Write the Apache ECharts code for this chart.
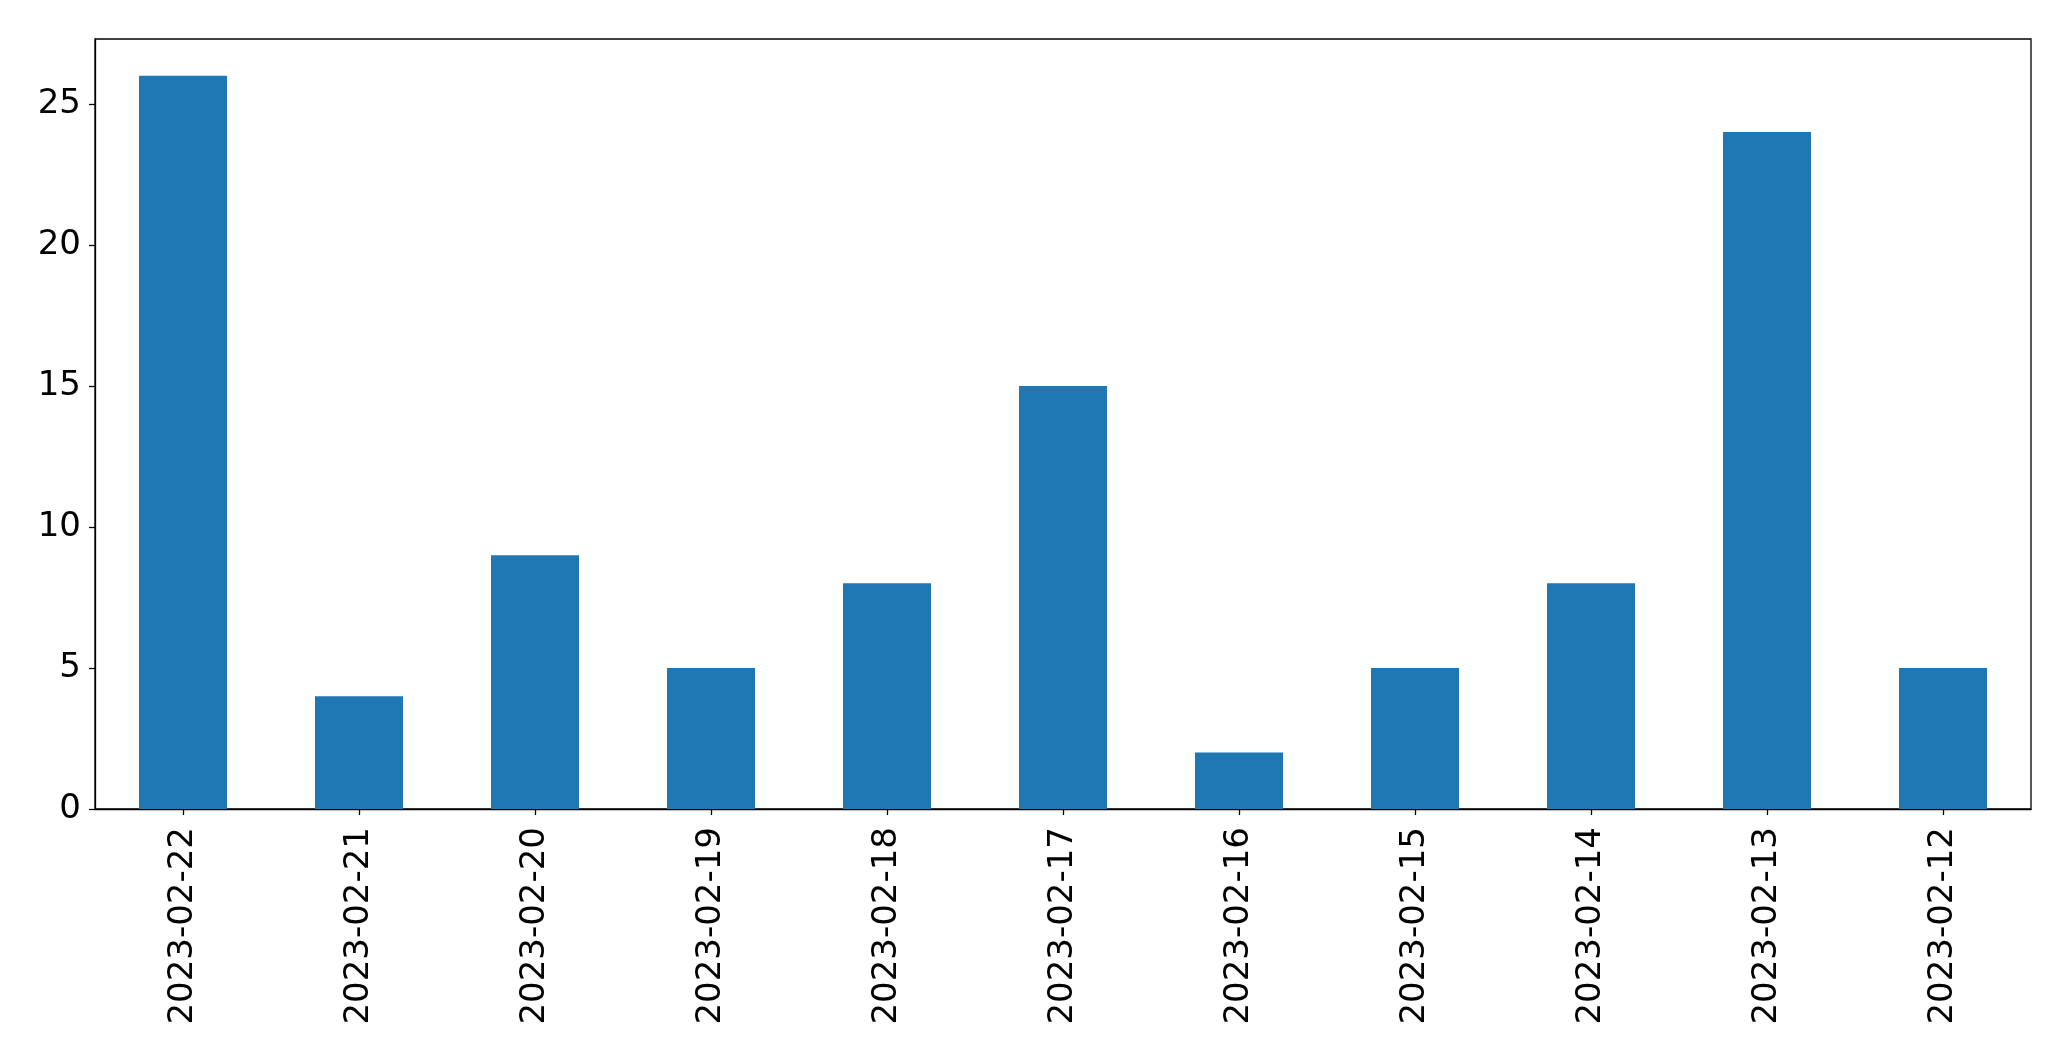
<!DOCTYPE html>
<html>
<head>
<meta charset="utf-8">
<script src="https://cdn.jsdelivr.net/npm/echarts@6/dist/echarts.min.js"></script>
<style>html,body{margin:0;padding:0;background:#fff;}#c{width:2071px;height:1061px;}</style>
</head>
<body>
<div id="c"></div>
<script>
const categories = ["2023-02-22","2023-02-21","2023-02-20","2023-02-19","2023-02-18","2023-02-17","2023-02-16","2023-02-15","2023-02-14","2023-02-13","2023-02-12"];
const values = [26, 4, 9, 5, 8, 15, 2, 5, 8, 24, 5];
const yMax = 27.3;

const chart = echarts.init(document.getElementById('c'), null, {renderer: 'canvas'});
chart.setOption({
  animation: false,
  backgroundColor: '#fff',
  grid: {left: 95, right: 40, top: 39, bottom: 252, show: true, borderColor: '#000', borderWidth: 1.3, backgroundColor: 'transparent'},
  xAxis: {
    type: 'category',
    data: categories,
    boundaryGap: true,
    axisLine: {show: true, lineStyle: {color: '#000', width: 1.3}},
    axisTick: {show: true, alignWithLabel: true, length: 6, lineStyle: {color: '#000', width: 1.3}},
    axisLabel: {rotate: 90, margin: 18, fontSize: 34, fontFamily: 'DejaVu Sans', color: '#000', interval: 0},
    splitLine: {show: false}
  },
  yAxis: {
    type: 'value',
    min: 0, max: yMax, interval: 5,
    axisLine: {show: true, lineStyle: {color: '#000', width: 1.3}},
    axisTick: {show: true, length: 6, lineStyle: {color: '#000', width: 1.3}},
    axisLabel: {showMaxLabel: false, margin: 14, fontSize: 34, fontFamily: 'DejaVu Sans', color: '#000'},
    splitLine: {show: false}
  },
  series: [{
    type: 'bar',
    data: values,
    barWidth: '50%',
    itemStyle: {color: '#1f77b4'}
  }]
});
</script>
</body>
</html>
